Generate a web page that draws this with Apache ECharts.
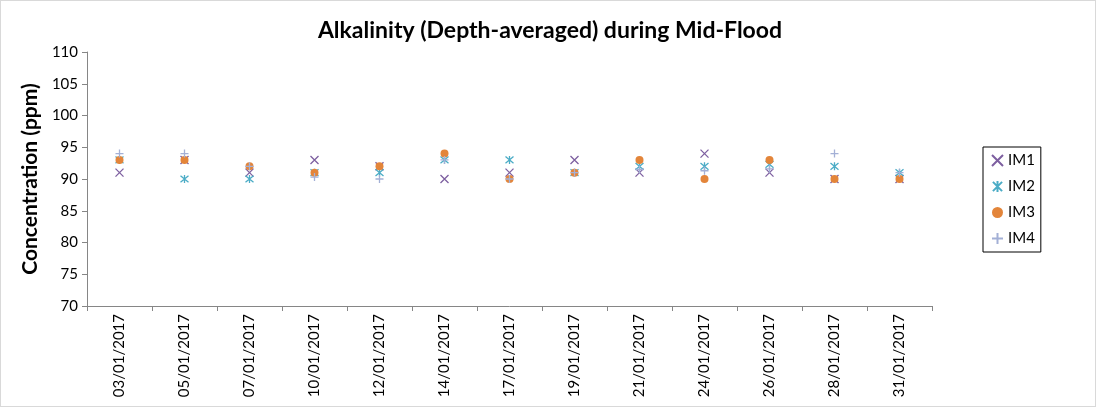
<!DOCTYPE html>
<html><head><meta charset="utf-8">
<script src="https://cdn.jsdelivr.net/npm/echarts@6/dist/echarts.min.js"></script>
<style>html,body{margin:0;padding:0;background:#fff}#c{width:1094px;height:405px;border:1px solid #d9d9d9}</style>
</head><body><div id="c"></div>
<script>
const categories = ['03/01/2017','05/01/2017','07/01/2017','10/01/2017','12/01/2017','14/01/2017','17/01/2017','19/01/2017','21/01/2017','24/01/2017','26/01/2017','28/01/2017','31/01/2017'];
const IM1 = [91, 93, 91, 93, 92, 90, 91, 93, 91, 94, 91, 90, 90];
const IM2 = [93, 90, 90, 91, 91, 93, 93, 91, 92, 92, 92.3, 92, 91];
const IM3 = [93, 93, 92, 91, 92, 94, 90, 91, 93, 90, 93, 90, 90];
const IM4 = [94, 94, 92, 90.3, 90, 93, 90, 91, 91.5, 91.3, 91.6, 94, 91];
const yTicks = {min: 70, max: 110, interval: 5};

const font = 'Lato, "Open Sans", sans-serif';
const sym = {
  IM1: 'path://M0,0L10,10M10,0L0,10',
  IM2: 'path://M0,0L10,10M10,0L0,10M5,-1L5,11',
  IM3: 'circle',
  IM4: 'path://M5,0L5,10M0,5L10,5'
};
const colors = {IM1:'#7d5fa0', IM2:'#4bacc6', IM3:'#e3853a', IM4:'#a3b0d6'};
function mk(name, data){
  const isPath = sym[name] !== 'circle';
  return {
    name, type:'scatter', data,
    symbol: sym[name],
    symbolSize: 8,
    itemStyle: isPath ? {color:'transparent', borderColor: colors[name], borderWidth: 1.3, opacity:1}
                      : {color: colors[name], opacity:1},
    emphasis:{disabled:true}
  };
}
const chart = echarts.init(document.getElementById('c'));
chart.setOption({
  animation:false,
  title:{text:'Alkalinity (Depth-averaged) during Mid-Flood', left:544, top:13, textAlign:'center',
    textStyle:{fontFamily:font, fontSize:23, fontWeight:'bold', color:'#000'}},
  grid:{left:86, right:163, top:51, bottom:100},
  legend:{orient:'vertical', left:982, top:146, itemWidth:11, itemHeight:11, itemGap:11,
    padding:[6,6,6,8], borderColor:'#000', borderWidth:1,
    textStyle:{fontFamily:font, fontSize:15, color:'#000'},
    data:['IM1','IM2','IM3','IM4']},
  xAxis:{type:'category', data:categories, boundaryGap:true,
    axisLine:{lineStyle:{color:'#868686'}},
    axisTick:{show:true, length:5, lineStyle:{color:'#868686'}, alignWithLabel:false},
    axisLabel:{rotate:90, fontFamily:font, fontSize:15, color:'#000', margin:8}},
  yAxis:{type:'value', min:yTicks.min, max:yTicks.max, interval:yTicks.interval,
    name:'Concentration (ppm)', nameLocation:'middle', nameGap:44,
    nameTextStyle:{fontFamily:font, fontSize:21, fontWeight:'bold', color:'#000'},
    axisLine:{show:true, lineStyle:{color:'#868686'}},
    axisTick:{show:true, length:5, lineStyle:{color:'#868686'}},
    splitLine:{show:false},
    axisLabel:{fontFamily:font, fontSize:15, color:'#000', margin:9}},
  series:[mk('IM1',IM1), mk('IM2',IM2), mk('IM3',IM3), mk('IM4',IM4)]
});
</script></body></html>
